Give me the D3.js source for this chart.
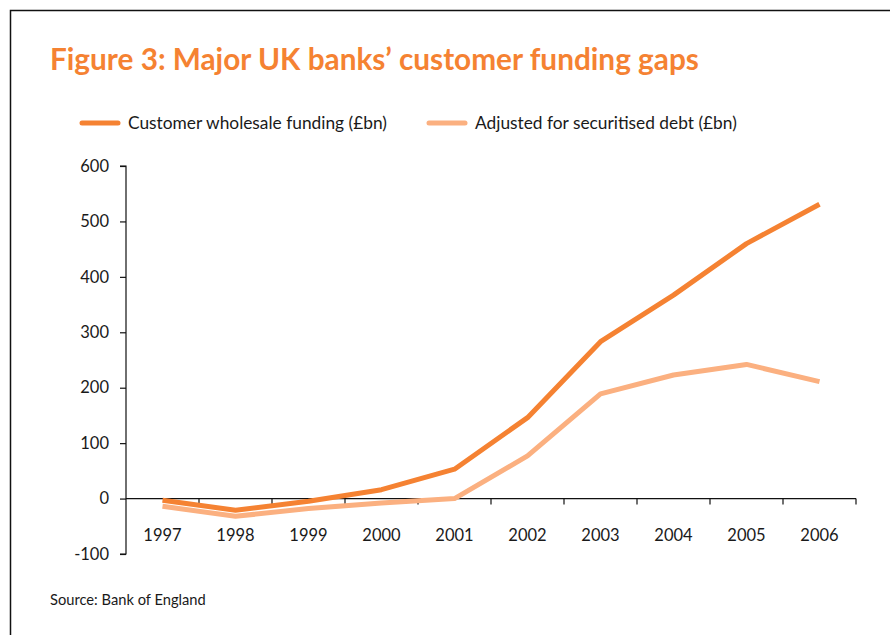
<!DOCTYPE html>
<html>
<head>
<meta charset="utf-8">
<script src="https://cdn.jsdelivr.net/npm/d3@7"></script>
<style>
  html, body { margin: 0; padding: 0; background: #fff; }
  svg { display: block; }
  text { font-family: Lato, "Open Sans", sans-serif; fill: #1a1a1a; }
</style>
</head>
<body>
<svg id="chart" width="890" height="635"></svg>
<script>
// Years on the category axis
const years = ["1997", "1998", "1999", "2000", "2001", "2002", "2003", "2004", "2005", "2006"];
// Customer funding gap, £bn
const wholesaleFunding = [-3, -21, -5, 16, 53, 146, 283, 367, 460, 531];
// Gap after adjusting for securitised debt, £bn
const adjustedForSecuritised = [-14, -32, -18, -8, 0, 77, 189, 223, 242, 211];
const yTicks = [-100, 0, 100, 200, 300, 400, 500, 600];
const seriesNames = ["Customer wholesale funding (£bn)", "Adjusted for securitised debt (£bn)"];
const seriesColors = ["#F58232", "#FBB080"];

const svg = d3.select("#chart");

// Shrink or grow a text's font size so it spans the given width
function fitWidth(sel, size, width) {
  sel.style("font-size", size + "px");
  const w = sel.node().getComputedTextLength();
  sel.style("font-size", (size * width / w) + "px");
}

// Frame lines along the top and left edge
svg.append("path")
  .attr("d", "M10.5,890 V10.5 H890")
  .attr("fill", "none").attr("stroke", "#111").attr("stroke-width", 1.5);

// Title
const title = svg.append("text")
  .attr("x", 50).attr("y", 70)
  .style("font-weight", 700)
  .style("fill", "#F58232")
  .text("Figure 3: Major UK banks’ customer funding gaps");
fitWidth(title, 28, 649);

// Scales
const x = d3.scaleBand().domain(years).range([126, 856]).padding(0);
const y = d3.scaleLinear().domain([-100, 600]).range([554, 166]);
const cx = d => x(d) + x.bandwidth() / 2;

// Y axis
const yAxis = svg.append("g").attr("transform", "translate(126,0)")
  .call(d3.axisLeft(y).tickValues(yTicks).tickSize(6).tickPadding(11).tickFormat(d => String(d)));
yAxis.select(".domain").attr("stroke", "#111").attr("stroke-width", 1.2)
  .attr("d", `M-6,${y(-100)}H0V${y(600)}H-6`);
yAxis.selectAll(".tick line").attr("stroke", "#111").attr("stroke-width", 1.2);
yAxis.selectAll(".tick text").style("font-size", "16.5px").style("fill", "#1a1a1a").attr("font-family", null);

// X axis: labels at band centres, ticks at band edges
const xAxis = svg.append("g").attr("transform", `translate(0,${y(0)})`)
  .call(d3.axisBottom(x).tickSize(0).tickPadding(31));
xAxis.select(".domain").remove();
xAxis.selectAll(".tick text").style("font-size", "16.5px").style("fill", "#1a1a1a").attr("font-family", null);
xAxis.append("line").attr("x1", 126).attr("x2", 856).attr("stroke", "#111").attr("stroke-width", 1.2);
const edges = years.map(d => x(d)).concat([x(years[years.length - 1]) + x.bandwidth()]).slice(1);
xAxis.selectAll(".edge").data(edges).join("line")
  .attr("class", "edge")
  .attr("x1", d => d).attr("x2", d => d).attr("y1", 0).attr("y2", 6)
  .attr("stroke", "#111").attr("stroke-width", 1.2);

// Lines
const line = d3.line().x((d, i) => cx(years[i])).y(d => y(d));
[adjustedForSecuritised, wholesaleFunding].forEach((s, k) => {
  svg.append("path")
    .datum(s)
    .attr("d", line)
    .attr("fill", "none")
    .attr("stroke", seriesColors[1 - k])
    .attr("stroke-width", 5)
    .attr("stroke-linejoin", "round")
    .attr("stroke-linecap", "butt");
});

// Legend
const legendX = [80, 427];
const legendTextW = [259, 262];
seriesNames.forEach((name, i) => {
  const g = svg.append("g").attr("transform", `translate(${legendX[i]},123)`);
  g.append("line").attr("x1", 2).attr("x2", 38)
    .attr("stroke", seriesColors[i]).attr("stroke-width", 5).attr("stroke-linecap", "round");
  const t = g.append("text").attr("x", 48).attr("y", 6).text(name);
  fitWidth(t, 16, legendTextW[i]);
});

// Source note
const src = svg.append("text").attr("x", 50).attr("y", 605).text("Source: Bank of England");
fitWidth(src, 13.5, 156);
</script>
</body>
</html>
